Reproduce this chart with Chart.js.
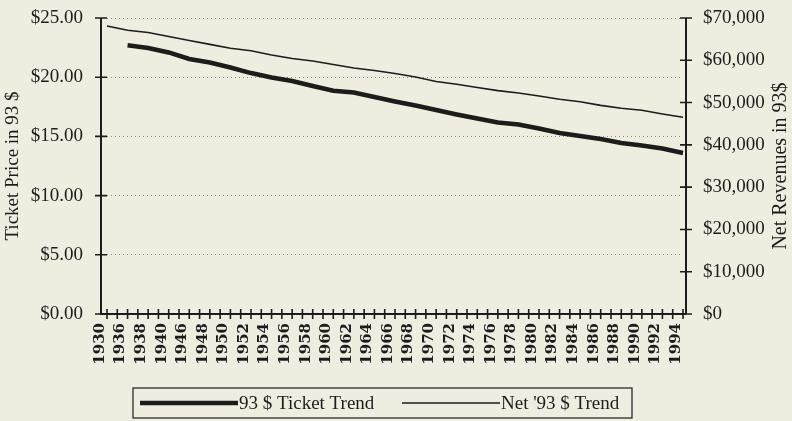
<!DOCTYPE html>
<html>
<head>
<meta charset="utf-8">
<script src="https://cdn.jsdelivr.net/npm/chart.js@4.4.1/dist/chart.umd.min.js"></script>
<style>
  html, body { margin: 0; padding: 0; background: #efece0; }
</style>
</head>
<body>
<canvas id="myChart" width="792" height="421"></canvas>
<script>
// years on the category axis
const years = ["1930", "1936", "1938", "1940", "1946", "1948", "1950", "1952", "1954", "1956",
  "1958", "1960", "1962", "1964", "1966", "1968", "1970", "1972", "1974", "1976",
  "1978", "1980", "1982", "1984", "1986", "1988", "1990", "1992", "1994"];

// ticket price trend, 93 dollars (left axis)
const ticketTrend = [null, 22.70, 22.47, 22.09, 21.54, 21.24, 20.82, 20.35, 19.97, 19.68,
  19.26, 18.86, 18.71, 18.33, 17.95, 17.61, 17.23, 16.85, 16.51, 16.17,
  16.01, 15.67, 15.29, 15.03, 14.78, 14.44, 14.23, 13.98, 13.60];

// net revenue trend, 93 dollars (right axis)
const netTrend = [68100, 67090, 66570, 65630, 64700, 63760, 62830, 62270, 61250, 60420,
  59850, 59000, 58180, 57580, 56870, 56050, 54980, 54320, 53560, 52830,
  52260, 51550, 50770, 50180, 49330, 48640, 48170, 47300, 46520];

const seriesNames = ["93 $ Ticket Trend", "Net '93 $ Trend"];
const axisTitles = ["Ticket Price in 93 $", "Net Revenues in 93$"];

const ink = "#1c1c1c";
const serif = "'Liberation Serif', 'DejaVu Serif', serif";

// no extra room around the plot, sizes are fixed by hand
function noPad(scale) {
  scale.paddingTop = 0;
  scale.paddingBottom = 0;
  scale.paddingLeft = 0;
  scale.paddingRight = 0;
}

// axes, tick crosses, titles and boxed legend drawn by hand
const framePlugin = {
  id: "frame",
  beforeDraw(chart) {
    const ctx = chart.ctx;
    ctx.save();
    ctx.fillStyle = "#efece0";
    ctx.fillRect(0, 0, chart.width, chart.height);
    ctx.restore();
  },
  afterDraw(chart) {
    const ctx = chart.ctx;
    const area = chart.chartArea;
    const x = chart.scales.x;
    const yL = chart.scales.y;
    const yR = chart.scales.y2;
    const leftX = area.left - 6;
    const rightX = area.right + 3;
    const baseY = area.bottom;

    ctx.save();
    ctx.strokeStyle = ink;
    ctx.lineWidth = 2;
    ctx.beginPath();
    ctx.moveTo(leftX, area.top);
    ctx.lineTo(leftX, baseY);
    ctx.lineTo(rightX, baseY);
    ctx.moveTo(rightX, area.top);
    ctx.lineTo(rightX, baseY);
    ctx.stroke();

    // crossing tick marks
    ctx.lineWidth = 1.6;
    ctx.beginPath();
    yL.ticks.forEach(t => {
      const py = yL.getPixelForValue(t.value);
      ctx.moveTo(leftX - 6, py);
      ctx.lineTo(leftX + 6, py);
    });
    yR.ticks.forEach(t => {
      const py = yR.getPixelForValue(t.value);
      ctx.moveTo(rightX - 6, py);
      ctx.lineTo(rightX + 6, py);
    });
    for (let i = 0; i < years.length; i++) {
      const px = x.getPixelForValue(i);
      ctx.moveTo(px, baseY - 5);
      ctx.lineTo(px, baseY + 5);
      if (i < years.length - 1) {
        const mid = (px + x.getPixelForValue(i + 1)) / 2;
        ctx.moveTo(mid, baseY - 5);
        ctx.lineTo(mid, baseY + 5);
      }
    }
    ctx.stroke();

    // axis titles, both reading upward
    ctx.fillStyle = ink;
    ctx.textAlign = "center";
    ctx.textBaseline = "middle";
    const midY = (area.top + area.bottom) / 2;
    ctx.save();
    ctx.font = "19px " + serif;
    ctx.translate(13, midY);
    ctx.rotate(-Math.PI / 2);
    ctx.fillText(axisTitles[0], 0, 0);
    ctx.restore();
    ctx.save();
    ctx.font = "20px " + serif;
    ctx.translate(781, midY);
    ctx.rotate(-Math.PI / 2);
    ctx.fillText(axisTitles[1], 0, 0);
    ctx.restore();

    // legend box
    const boxL = 133, boxT = 388, boxR = 632, boxB = 418;
    ctx.lineWidth = 1.2;
    ctx.strokeRect(boxL, boxT, boxR - boxL, boxB - boxT);
    ctx.font = "19px " + serif;
    ctx.textAlign = "left";
    const sampleStarts = [140, 402];
    chart.data.datasets.forEach((ds, i) => {
      const sx = sampleStarts[i];
      const cy = (boxT + boxB) / 2;
      ctx.lineWidth = ds.borderWidth;
      ctx.strokeStyle = ds.borderColor;
      ctx.beginPath();
      ctx.moveTo(sx, cy);
      ctx.lineTo(sx + 98, cy);
      ctx.stroke();
      ctx.fillText(ds.label, sx + 99, cy + 1);
    });
    ctx.restore();
  }
};

const config = {
  type: "line",
  data: {
    labels: years,
    datasets: [
      {
        label: seriesNames[0],
        data: ticketTrend,
        yAxisID: "y",
        borderColor: ink,
        borderWidth: 4.5,
        pointRadius: 0,
        tension: 0
      },
      {
        label: seriesNames[1],
        data: netTrend,
        yAxisID: "y2",
        borderColor: ink,
        borderWidth: 1.6,
        pointRadius: 0,
        tension: 0
      }
    ]
  },
  options: {
    responsive: false,
    animation: false,
    devicePixelRatio: 1,
    layout: { padding: { top: 18, left: 0, right: 0, bottom: 0 } },
    plugins: {
      legend: { display: false },
      tooltip: { enabled: false }
    },
    scales: {
      x: {
        type: "category",
        offset: false,
        grid: { display: false, drawTicks: false },
        border: { display: false },
        ticks: {
          autoSkip: false,
          minRotation: 90,
          maxRotation: 90,
          padding: 9,
          labelOffset: -7,
          color: ink,
          font: { family: "'DejaVu Serif', serif", size: 15, weight: "bold" }
        },
        afterFit(scale) { scale.height = 107; noPad(scale); }
      },
      y: {
        position: "left",
        min: 0,
        max: 25,
        ticks: {
          stepSize: 5,
          padding: 24,
          color: ink,
          font: { family: serif, size: 19 },
          callback: v => "$" + v.toFixed(2)
        },
        grid: {
          drawTicks: false,
          color: ctx => ctx.tick.value === 0 ? "rgba(0,0,0,0)" : "#8a8a84",
          lineWidth: 1
        },
        border: { display: false, dash: [1, 3] },
        afterFit(scale) { scale.width = 107; noPad(scale); }
      },
      y2: {
        position: "right",
        min: 0,
        max: 70000,
        ticks: {
          stepSize: 10000,
          padding: 20,
          color: ink,
          font: { family: serif, size: 19 },
          callback: v => "$" + v.toLocaleString("en-US")
        },
        grid: { display: false, drawTicks: false },
        border: { display: false },
        afterFit(scale) { scale.width = 109; noPad(scale); }
      }
    }
  },
  plugins: [framePlugin]
};

const myChart = new Chart(document.getElementById("myChart"), config);
</script>
</body>
</html>
